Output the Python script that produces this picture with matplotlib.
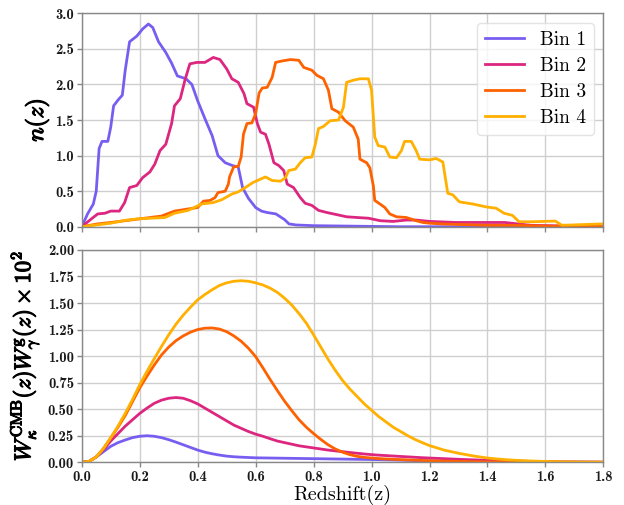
import matplotlib
matplotlib.use("Agg")
import matplotlib.pyplot as plt
import matplotlib.patheffects as pe

plt.rcParams['mathtext.fontset'] = 'cm'
plt.rcParams['axes.unicode_minus'] = False

# ---------------- data: top panel n(z) ----------------
labels = ["Bin 1", "Bin 2", "Bin 3", "Bin 4"]
colors = ["#785EF0", "#DC267F", "#FE6100", "#FFB000"]

z_bin1 = [0, 0.02, 0.04, 0.05, 0.06, 0.07, 0.09, 0.10, 0.11, 0.125,
          0.14, 0.15, 0.165, 0.19, 0.21, 0.23, 0.245, 0.265, 0.29, 0.31,
          0.33, 0.36, 0.38, 0.40, 0.425, 0.45, 0.47, 0.495, 0.52, 0.54,
          0.555, 0.575, 0.60, 0.62, 0.64, 0.67, 0.70, 0.715, 0.74, 0.80,
          0.9, 1.0, 1.1, 1.8]
n_bin1 = [0, 0.18, 0.32, 0.5, 1.1, 1.2, 1.2, 1.4, 1.7, 1.78,
          1.85, 2.2, 2.6, 2.68, 2.78, 2.85, 2.8, 2.6, 2.45, 2.3,
          2.12, 2.08, 2.0, 1.77, 1.52, 1.28, 1.0, 0.9, 0.86, 0.84,
          0.55, 0.4, 0.27, 0.22, 0.2, 0.18, 0.1, 0.04, 0.025, 0.015,
          0.01, 0.005, 0.0, 0.0]

z_bin2 = [0, 0.03, 0.055, 0.08, 0.1, 0.13, 0.148, 0.165, 0.19, 0.21,
          0.235, 0.252, 0.27, 0.29, 0.31, 0.32, 0.34, 0.356, 0.373, 0.397,
          0.425, 0.454, 0.477, 0.5, 0.518, 0.54, 0.56, 0.57, 0.593, 0.606,
          0.617, 0.634, 0.646, 0.663, 0.68, 0.697, 0.709, 0.731, 0.754, 0.771,
          0.794, 0.817, 0.846, 0.88, 0.914, 0.949, 0.989, 1.03, 1.074, 1.12,
          1.154, 1.2, 1.29, 1.46, 1.55, 1.8]
n_bin2 = [0, 0.1, 0.18, 0.19, 0.22, 0.22, 0.34, 0.55, 0.58, 0.69,
          0.77, 0.88, 1.07, 1.16, 1.45, 1.7, 1.8, 2.06, 2.29, 2.31,
          2.31, 2.38, 2.35, 2.22, 2.08, 2.03, 1.87, 1.73, 1.68, 1.45,
          1.33, 1.3, 1.16, 0.9, 0.86, 0.79, 0.6, 0.55, 0.41, 0.33,
          0.3, 0.23, 0.2, 0.17, 0.14, 0.13, 0.12, 0.085, 0.075, 0.094,
          0.094, 0.075, 0.06, 0.06, 0.02, 0.0]

z_bin3 = [0, 0.055, 0.1, 0.16, 0.217, 0.275, 0.32, 0.367, 0.4, 0.42,
          0.443, 0.46, 0.47, 0.495, 0.506, 0.51, 0.524, 0.54, 0.55, 0.558,
          0.57, 0.587, 0.6, 0.612, 0.623, 0.64, 0.657, 0.669, 0.691, 0.72,
          0.749, 0.766, 0.794, 0.811, 0.834, 0.851, 0.863, 0.886, 0.909, 0.937,
          0.954, 0.96, 0.983, 0.994, 1.006, 1.011, 1.029, 1.046, 1.063, 1.086,
          1.12, 1.154, 1.177, 1.2, 1.24, 1.4, 1.49, 1.6, 1.8]
n_bin3 = [0, 0.04, 0.06, 0.09, 0.12, 0.15, 0.22, 0.25, 0.27, 0.36,
          0.37, 0.41, 0.48, 0.5, 0.6, 0.7, 0.84, 0.85, 0.98, 1.3,
          1.45, 1.46, 1.59, 1.88, 1.95, 1.96, 2.1, 2.31, 2.33, 2.35,
          2.34, 2.24, 2.2, 2.13, 2.08, 1.92, 1.66, 1.61, 1.49, 1.4,
          1.23, 0.95, 0.9, 0.83, 0.58, 0.37, 0.32, 0.27, 0.18, 0.14,
          0.13, 0.085, 0.06, 0.05, 0.04, 0.02, 0.02, 0.01, 0.0]

z_bin4 = [0, 0.06, 0.1, 0.15, 0.19, 0.24, 0.287, 0.32, 0.367, 0.414,
          0.454, 0.483, 0.518, 0.54, 0.564, 0.59, 0.617, 0.634, 0.657, 0.686,
          0.703, 0.714, 0.737, 0.754, 0.771, 0.794, 0.806, 0.817, 0.834, 0.857,
          0.886, 0.903, 0.914, 0.937, 0.96, 0.989, 1.0, 1.011, 1.023, 1.046,
          1.063, 1.086, 1.103, 1.114, 1.137, 1.154, 1.166, 1.2, 1.223, 1.246,
          1.263, 1.28, 1.303, 1.349, 1.394, 1.43, 1.457, 1.486, 1.509, 1.554,
          1.634, 1.657, 1.726, 1.8]
n_bin4 = [0, 0.03, 0.05, 0.09, 0.11, 0.12, 0.13, 0.19, 0.23, 0.32,
          0.34, 0.38, 0.46, 0.49, 0.55, 0.62, 0.67, 0.7, 0.65, 0.64,
          0.69, 0.79, 0.81, 0.9, 0.97, 0.98, 1.16, 1.38, 1.41, 1.49,
          1.5, 1.68, 2.03, 2.06, 2.08, 2.08, 1.92, 1.26, 1.14, 1.12,
          0.98, 0.97, 1.07, 1.2, 1.2, 1.07, 0.95, 0.94, 0.96, 0.91,
          0.47, 0.45, 0.35, 0.32, 0.28, 0.26, 0.19, 0.16, 0.07, 0.07,
          0.08, 0.02, 0.03, 0.04]

# ---------------- data: bottom panel kernels (x 1e2) ----------------
z_kernel = [0.0, 0.025, 0.05, 0.075, 0.1, 0.125, 0.15, 0.175, 0.2, 0.225,
            0.25, 0.275, 0.3, 0.325, 0.35, 0.375, 0.4, 0.425, 0.45, 0.475,
            0.5, 0.525, 0.55, 0.575, 0.6, 0.625, 0.65, 0.675, 0.7, 0.725,
            0.75, 0.775, 0.8, 0.825, 0.85, 0.875, 0.9, 0.925, 0.95, 0.975,
            1.0, 1.025, 1.05, 1.075, 1.1, 1.125, 1.15, 1.175, 1.2,
            1.25, 1.3, 1.35, 1.4, 1.45, 1.5, 1.55, 1.6, 1.65, 1.7, 1.75, 1.8]
w_bin1 = [0, 0.008, 0.05, 0.1, 0.15, 0.185, 0.21, 0.232, 0.245, 0.25,
          0.245, 0.232, 0.213, 0.19, 0.165, 0.14, 0.115, 0.095, 0.08, 0.068,
          0.058, 0.052, 0.048, 0.045, 0.042, 0.041, 0.04, 0.039, 0.038, 0.037,
          0.036, 0.035, 0.034, 0.033, 0.032, 0.031, 0.03, 0.029, 0.028, 0.027,
          0.026, 0.0245, 0.023, 0.0215, 0.02, 0.018, 0.016, 0.0145, 0.013,
          0.01, 0.008, 0.006, 0.005, 0.004, 0.003, 0.0025, 0.002, 0.0015, 0.001, 0.0005, 0.0]
w_bin2 = [0, 0.008, 0.05, 0.12, 0.2, 0.27, 0.34, 0.4, 0.46, 0.51,
          0.555, 0.585, 0.603, 0.61, 0.603, 0.58, 0.55, 0.51, 0.47, 0.43,
          0.39, 0.35, 0.32, 0.29, 0.265, 0.245, 0.222, 0.2, 0.185, 0.17,
          0.155, 0.145, 0.135, 0.125, 0.115, 0.107, 0.1, 0.092, 0.085, 0.078,
          0.072, 0.067, 0.063, 0.059, 0.055, 0.051, 0.047, 0.043, 0.04,
          0.034, 0.028, 0.023, 0.018, 0.014, 0.011, 0.008, 0.006, 0.004, 0.003, 0.002, 0.001]
w_bin3 = [0, 0.008, 0.05, 0.13, 0.23, 0.33, 0.44, 0.57, 0.7, 0.81,
          0.915, 1.01, 1.085, 1.145, 1.19, 1.225, 1.25, 1.263, 1.265, 1.255,
          1.23, 1.19, 1.14, 1.075, 0.995, 0.89, 0.78, 0.675, 0.575, 0.485,
          0.4, 0.33, 0.27, 0.215, 0.165, 0.125, 0.095, 0.072, 0.056, 0.046,
          0.04, 0.035, 0.031, 0.028, 0.025, 0.022, 0.02, 0.017, 0.015,
          0.011, 0.008, 0.006, 0.004, 0.003, 0.002, 0.0015, 0.001, 0.0005, 0.0, 0.0, 0.0]
w_bin4 = [0, 0.008, 0.05, 0.13, 0.23, 0.34, 0.46, 0.59, 0.73, 0.855,
          0.975, 1.09, 1.2, 1.3, 1.385, 1.46, 1.53, 1.58, 1.625, 1.665,
          1.69, 1.705, 1.71, 1.705, 1.69, 1.67, 1.64, 1.6, 1.545, 1.48,
          1.4, 1.31, 1.2, 1.085, 0.97, 0.865, 0.77, 0.69, 0.62, 0.55,
          0.49, 0.43, 0.38, 0.33, 0.29, 0.25, 0.215, 0.185, 0.157,
          0.115, 0.085, 0.06, 0.04, 0.027, 0.018, 0.012, 0.008, 0.005, 0.003, 0.002, 0.001]

xticks = [0.0, 0.2, 0.4, 0.6, 0.8, 1.0, 1.2, 1.4, 1.6, 1.8]
top_yticks = [0.0, 0.5, 1.0, 1.5, 2.0, 2.5, 3.0]
bot_yticks = [0.0, 0.25, 0.5, 0.75, 1.0, 1.25, 1.5, 1.75, 2.0]

# ---------------- figure ----------------
fig = plt.figure(figsize=(6.24, 5.05), dpi=100)
ax1 = fig.add_axes([0.131, 0.551, 0.836, 0.4226])
ax2 = fig.add_axes([0.131, 0.0846, 0.836, 0.4205])

tick_font = dict(family='cmb10', size=10.5)
spine_col = '#888888'
grid_col = '#cfcfcf'

for z, n, c, lab in zip([z_bin1, z_bin2, z_bin3, z_bin4],
                        [n_bin1, n_bin2, n_bin3, n_bin4], colors, labels):
    ax1.plot(z, n, color=c, lw=2.0, label=lab, solid_joinstyle='round')
for w, c in zip([w_bin1, w_bin2, w_bin3, w_bin4], colors):
    ax2.plot(z_kernel, w, color=c, lw=2.0, solid_joinstyle='round')

for ax, yt, yfmt in [(ax1, top_yticks, '{:.1f}'), (ax2, bot_yticks, '{:.2f}')]:
    ax.set_xlim(0, 1.8)
    ax.set_xticks(xticks)
    ax.set_yticks(yt)
    ax.set_ylim(yt[0], yt[-1])
    ax.set_yticklabels([yfmt.format(v) for v in yt], fontdict=tick_font)
    ax.grid(True, color=grid_col, lw=1.0)
    ax.set_axisbelow(True)
    for s in ax.spines.values():
        s.set_color(spine_col)
        s.set_linewidth(1.0)
    ax.tick_params(colors=spine_col, labelcolor='#1a1a1a', length=3.5, width=1.0, pad=2)

ax1.set_xticklabels([])
ax2.set_xticklabels(['{:.1f}'.format(v) for v in xticks], fontdict=tick_font)

bold = [pe.withStroke(linewidth=0.9, foreground='black')]
ax1.set_ylabel(r'$n(z)$', fontsize=17, path_effects=bold)
ax1.yaxis.set_label_coords(-0.058, 0.5)
ax2.set_ylabel(r'$W_{\kappa}^{\mathrm{CMB}}(z)W_{\gamma}^{\mathrm{g}}(z)\times10^2$',
               fontsize=16.3, path_effects=bold)
ax2.yaxis.set_label_coords(-0.077, 0.5)
ax2.set_xlabel('Redshift(z)', fontsize=14.5, family='cmr10', labelpad=1)

leg = ax1.legend(loc='upper right', prop=dict(family='cmr10', size=14),
                 frameon=True, fancybox=True, framealpha=0.8,
                 edgecolor='#dddddd', borderpad=0.4, labelspacing=0.42,
                 handlelength=2.0, handletextpad=0.8)

fig.savefig('out.png', dpi=100)
